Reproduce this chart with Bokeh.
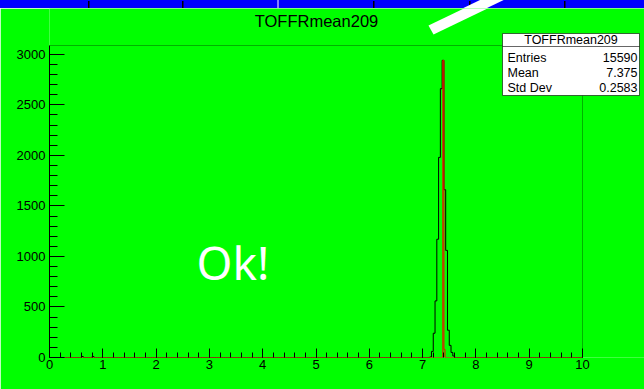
import numpy as np
from bokeh.plotting import figure
from bokeh.layouts import column
from bokeh.models import (Range1d, FixedTicker, BoxAnnotation, Label, PolyAnnotation, Div)
from bokeh.embed import file_html
from bokeh.resources import INLINE

# ---- data ----
hist_title = "TOFFRmean209"
stats_names = ["Entries", "Mean", "Std Dev"]
stats_values = ["15590", "7.375", "0.2583"]

black_bin_width = 1.0 / 30.0
black_bin_lo = [0.6, 0.8, 7.1333, 7.1667, 7.2, 7.2333, 7.2667, 7.3, 7.3333,
                7.3667, 7.4, 7.4333, 7.4667, 7.5, 7.5333, 7.5667]
black_counts = [10, 10, 5, 60, 240, 560, 1170, 1980, 2660,
                2940, 1660, 1060, 270, 120, 50, 15]

red_bin_width = 0.02
red_bin_lo = [7.38, 7.40]
red_counts = [2940, 80]

x_ticks = [0, 1, 2, 3, 4, 5, 6, 7, 8, 9, 10]
y_ticks = [0, 500, 1000, 1500, 2000, 2500, 3000]
x_max = 10.0
y_max = 3087.0

# ---- layout (canvas pixels) ----
W, H = 644, 389
BAND = 8                             # blue band height at the top of the canvas
FL, FT, FR, FB = 49, 45, 582, 357    # histogram frame box on the canvas
GREEN = "#00ff00"
FONT = "Liberation Sans"
BAR = [(428, 25), (433, 34), (512, -4), (505, -12)]   # white diagonal bar corners
BAND_MARKS = [88, 182, 373, 469, 564]

# plotting area extends to the top/right edge so decorations are not clipped
x_end = x_max * (W - FL) / (FR - FL)
y_end = y_max * (FB - BAND) / (FB - FT)


def sx(px):
    return px - FL


def sy(py):
    return FB - py


def outline(lo_list, counts, width):
    nb = int(round(x_max / width))
    c = np.zeros(nb)
    for lo, n in zip(lo_list, counts):
        c[int(round(lo / width))] = n
    edges = np.arange(nb + 1) * width
    xs = np.repeat(edges, 2)[1:-1]
    ys = np.repeat(c, 2)
    xs = np.concatenate([[0.0], xs, [x_max]])
    ys = np.concatenate([[0.0], ys, [0.0]])
    return xs, ys


def box(l, r, t, b, **kw):
    return BoxAnnotation(left=sx(l), right=sx(r), top=sy(t), bottom=sy(b),
                         left_units="screen", right_units="screen",
                         top_units="screen", bottom_units="screen",
                         level="overlay", **kw)


def label(x, y, text, **kw):
    return Label(x=sx(x), y=sy(y), x_units="screen", y_units="screen",
                 text=text, level="overlay", **kw)


# top band (blue strip with marks and the start of the white bar)
marks = "".join(f'<rect x="{m}" y="1" width="1.5" height="7" fill="black"/>' for m in BAND_MARKS)
pts = " ".join(f"{x},{y}" for x, y in BAR)
band_svg = (f'<svg width="{W}" height="{BAND}" style="display:block">'
            f'<rect x="0" y="0" width="{W}" height="{BAND}" fill="#0000ff"/>'
            f'{marks}<rect x="277.5" y="0" width="1" height="{BAND}" fill="white"/>'
            f'<polygon points="{pts}" fill="white"/></svg>')
band = Div(text=band_svg, width=W, height=BAND, margin=0,
           styles={"overflow": "hidden", "line-height": "0"})

p = figure(width=W, height=H - BAND, output_backend="svg", toolbar_location=None,
           x_range=Range1d(0, x_end), y_range=Range1d(0, y_end),
           min_border_left=FL, min_border_right=0,
           min_border_top=0, min_border_bottom=H - FB, margin=0)
p.background_fill_color = GREEN
p.border_fill_color = GREEN
p.outline_line_color = None
p.xgrid.visible = False
p.ygrid.visible = False

# histogram frame
p.add_layout(BoxAnnotation(left=0, right=x_max, bottom=0, top=y_max,
                           fill_alpha=0, line_color="black", line_width=1, level="underlay"))

bx, by = outline(black_bin_lo, black_counts, black_bin_width)
p.line(bx, by, line_color="black", line_width=1)
rx, ry = outline(red_bin_lo, red_counts, red_bin_width)
p.line(rx, ry, line_color="#ff0000", line_width=1)

xa = p.xaxis[0]
xa.ticker = FixedTicker(ticks=x_ticks, minor_ticks=[i * 0.2 for i in range(51)])
xa.bounds = (0, x_max)
xa.axis_line_color = None
xa.major_tick_in = 9
xa.major_tick_out = 0
xa.minor_tick_in = 5
xa.minor_tick_out = 0
xa.major_tick_line_color = "black"
xa.minor_tick_line_color = "black"
xa.major_label_text_font = FONT
xa.major_label_text_font_size = "13px"
xa.major_label_text_color = "black"
xa.major_label_standoff = 2

ya = p.yaxis[0]
ya.ticker = FixedTicker(ticks=y_ticks, minor_ticks=list(range(0, 3100, 100)))
ya.bounds = (0, y_max)
ya.axis_line_color = "black"
ya.major_tick_in = 15
ya.major_tick_out = 0
ya.minor_tick_in = 8
ya.minor_tick_out = 0
ya.major_tick_line_color = "black"
ya.minor_tick_line_color = "black"
ya.major_label_text_font = FONT
ya.major_label_text_font_size = "13px"
ya.major_label_text_color = "black"
ya.major_label_standoff = 4

# white diagonal bar
p.add_layout(PolyAnnotation(xs=[sx(x) for x, _ in BAR], ys=[sy(y) for _, y in BAR],
                            xs_units="screen", ys_units="screen", level="overlay",
                            fill_color="white", fill_alpha=1, line_color=None))

# title
p.add_layout(label(316, 20, hist_title, text_align="center", text_baseline="middle",
                   text_font=FONT, text_font_size="16.5px", text_color="black"))

# stats box
p.add_layout(box(502, 639, 33, 95, fill_color="white", fill_alpha=1,
                 line_color="black", line_width=1, line_alpha=0.6))
p.add_layout(box(502, 639, 45.5, 46.5, fill_color="black", fill_alpha=0.6, line_color=None))
p.add_layout(label(570.5, 39.5, hist_title, text_align="center", text_baseline="middle",
                   text_font=FONT, text_font_size="12.5px", text_color="black"))
for i, (nm, vl) in enumerate(zip(stats_names, stats_values)):
    yy = 57 + 15 * i
    p.add_layout(label(507, yy, nm, text_align="left", text_baseline="middle",
                       text_font=FONT, text_font_size="12.5px", text_color="black"))
    p.add_layout(label(637, yy, vl, text_align="right", text_baseline="middle",
                       text_font=FONT, text_font_size="12.5px", text_color="black"))

# Ok! text
p.add_layout(label(196, 261, "Ok!", text_align="left", text_baseline="alphabetic",
                   text_font="Noto Sans", text_font_size="46px", text_color="white"))

layout = column(band, p, spacing=0, margin=0)
open("out.html", "w").write(file_html(layout, INLINE))
